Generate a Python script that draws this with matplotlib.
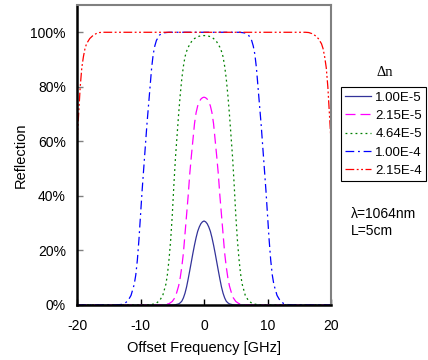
import matplotlib
matplotlib.use("Agg")
import matplotlib.pyplot as plt

plt.rcParams['font.family'] = ['Liberation Sans', 'DejaVu Sans']
plt.rcParams['axes.unicode_minus'] = False

# offset frequency [GHz] and reflection
f_1 = [-20, -5, -4.5, -4, -3.75, -3.5, -3.25, -3, -2.75, -2.5, -2.25, -2, -1.75, -1.5, -1.25, -1, -0.75, -0.5, -0.25, 0,
       0.25, 0.5, 0.75, 1, 1.25, 1.5, 1.75, 2, 2.25, 2.5, 2.75, 3, 3.25, 3.5, 3.75, 4, 4.5, 5, 20]
r_1 = [0, 0, 0.001, 0.004, 0.008, 0.014, 0.026, 0.043, 0.066, 0.095, 0.126, 0.158, 0.190, 0.220, 0.247, 0.270, 0.286, 0.298, 0.305, 0.308,
       0.305, 0.298, 0.286, 0.270, 0.247, 0.220, 0.190, 0.158, 0.126, 0.095, 0.066, 0.043, 0.026, 0.014, 0.008, 0.004, 0.001, 0, 0]

f_2 = [-20, -7, -6, -5.5, -5, -4.5, -4, -3.75, -3.5, -3.25, -3, -2.75, -2.5, -2.25, -2, -1.75, -1.5, -1.25, -1, -0.75, -0.5, -0.25, 0,
       0.25, 0.5, 0.75, 1, 1.25, 1.5, 1.75, 2, 2.25, 2.5, 2.75, 3, 3.25, 3.5, 3.75, 4, 4.5, 5, 5.5, 6, 7, 20]
r_2 = [0, 0, 0.002, 0.005, 0.013, 0.03, 0.07, 0.10, 0.14, 0.19, 0.26, 0.33, 0.40, 0.48, 0.545, 0.605, 0.665, 0.705, 0.730, 0.745, 0.755, 0.760, 0.762,
       0.760, 0.755, 0.745, 0.730, 0.705, 0.665, 0.605, 0.545, 0.48, 0.40, 0.33, 0.26, 0.19, 0.14, 0.10, 0.07, 0.03, 0.013, 0.005, 0.002, 0, 0]

f_3 = [-20, -9, -8, -7.5, -7, -6.5, -6, -5.75, -5.5, -5.25, -5, -4.75, -4.5, -4.25, -4, -3.75, -3.5, -3.25, -3, -2.75, -2.5, -2, -1.5, -1, -0.5, 0,
       0.5, 1, 1.5, 2, 2.5, 2.75, 3, 3.25, 3.5, 3.75, 4, 4.25, 4.5, 4.75, 5, 5.25, 5.5, 5.75, 6, 6.5, 7, 7.5, 8, 9, 20]
r_3 = [0, 0, 0.003, 0.007, 0.016, 0.035, 0.077, 0.115, 0.17, 0.24, 0.33, 0.44, 0.54, 0.62, 0.70, 0.77, 0.83, 0.875, 0.91, 0.93, 0.945, 0.965, 0.977, 0.984, 0.987, 0.988,
       0.987, 0.984, 0.977, 0.965, 0.945, 0.93, 0.91, 0.875, 0.83, 0.77, 0.70, 0.62, 0.54, 0.44, 0.33, 0.24, 0.17, 0.115, 0.077, 0.035, 0.016, 0.007, 0.003, 0, 0]

f_4 = [-20, -14, -13, -12.5, -12, -11.5, -11, -10.75, -10.5, -10.25, -10, -9.75, -9.5, -9.25, -9, -8.75, -8.5, -8.25, -8, -7.75, -7.5, -7, -6.5, -6, -5.5, 0,
       5.5, 6, 6.5, 7, 7.5, 7.75, 8, 8.25, 8.5, 8.75, 9, 9.25, 9.5, 9.75, 10, 10.25, 10.5, 10.75, 11, 11.5, 12, 12.5, 13, 14, 20]
r_4 = [0, 0, 0.002, 0.006, 0.015, 0.035, 0.075, 0.11, 0.165, 0.24, 0.33, 0.42, 0.50, 0.58, 0.66, 0.73, 0.80, 0.87, 0.92, 0.95, 0.97, 0.99, 0.997, 0.999, 1.0, 1.0,
       1.0, 0.999, 0.997, 0.99, 0.97, 0.95, 0.92, 0.87, 0.80, 0.73, 0.66, 0.58, 0.50, 0.42, 0.33, 0.24, 0.165, 0.11, 0.075, 0.035, 0.015, 0.006, 0.002, 0, 0]

f_5 = [-20, -19.8, -19.5, -19.25, -19, -18.75, -18.5, -18, -17.5, -17, -16.5, -16, 0,
       16, 16.5, 17, 17.5, 18, 18.5, 18.75, 19, 19.25, 19.5, 19.8, 20]
r_5 = [0.60, 0.68, 0.80, 0.87, 0.91, 0.94, 0.958, 0.977, 0.988, 0.995, 0.999, 1.0, 1.0,
       1.0, 0.999, 0.995, 0.988, 0.977, 0.958, 0.94, 0.91, 0.87, 0.80, 0.68, 0.60]

labels = ['1.00E-5', '2.15E-5', '4.64E-5', '1.00E-4', '2.15E-4']
colors = ['#333399', '#ff00ff', '#008000', '#0000ff', '#ff0000']
dashes = [None, (8, 4), (1.5, 2.5), (7, 3, 1.5, 3), (7, 2, 1.5, 2, 1.5, 2)]

fig = plt.figure(figsize=(4.28, 3.6), dpi=100)
ax = fig.add_axes([0.18, 0.1528, 0.5934, 0.8333])

series = [(f_1, r_1), (f_2, r_2), (f_3, r_3), (f_4, r_4), (f_5, r_5)]
for (fx, ry), lab, c, d in zip(series, labels, colors, dashes):
    line, = ax.plot(fx, ry, color=c, lw=0.9, label=lab)
    if d is not None:
        line.set_dashes(d)

ax.set_xlim(-20, 20)
ax.set_ylim(0, 1.1)
ax.set_xticks([-20, -10, 0, 10, 20])
ax.set_yticks([0, 0.2, 0.4, 0.6, 0.8, 1.0])
ax.set_yticklabels(['0%', '20%', '40%', '60%', '80%', '100%'])
ax.tick_params(direction='in', length=4, labelsize=10, width=1)
ax.tick_params(axis='y', colors='#808080', labelcolor='black', pad=8)
ax.tick_params(axis='x', pad=10)

for s in ['left', 'bottom']:
    ax.spines[s].set_color('black')
    ax.spines[s].set_linewidth(1.8)
for s in ['top', 'right']:
    ax.spines[s].set_color('#808080')
    ax.spines[s].set_linewidth(1.5)

ax.set_xlabel('Offset Frequency [GHz]', fontsize=10.5, labelpad=6)
ax.set_ylabel('Reflection', fontsize=10.5, labelpad=2)

leg = fig.legend(loc='upper left', bbox_to_anchor=(0.797, 0.757), fontsize=9.5,
                 frameon=True, fancybox=False, edgecolor='black', framealpha=1,
                 handlelength=2.0, handletextpad=0.3, labelspacing=0.46,
                 borderpad=0.3, borderaxespad=0)
leg.get_frame().set_linewidth(0.8)

fig.text(0.899, 0.80, 'Δn', fontsize=10.5, family='Liberation Serif', ha='center', va='center')
fig.text(0.82, 0.405, 'λ=1064nm', fontsize=10, ha='left', va='center')
fig.text(0.82, 0.357, 'L=5cm', fontsize=10, ha='left', va='center')

fig.savefig('out.png', dpi=100)
